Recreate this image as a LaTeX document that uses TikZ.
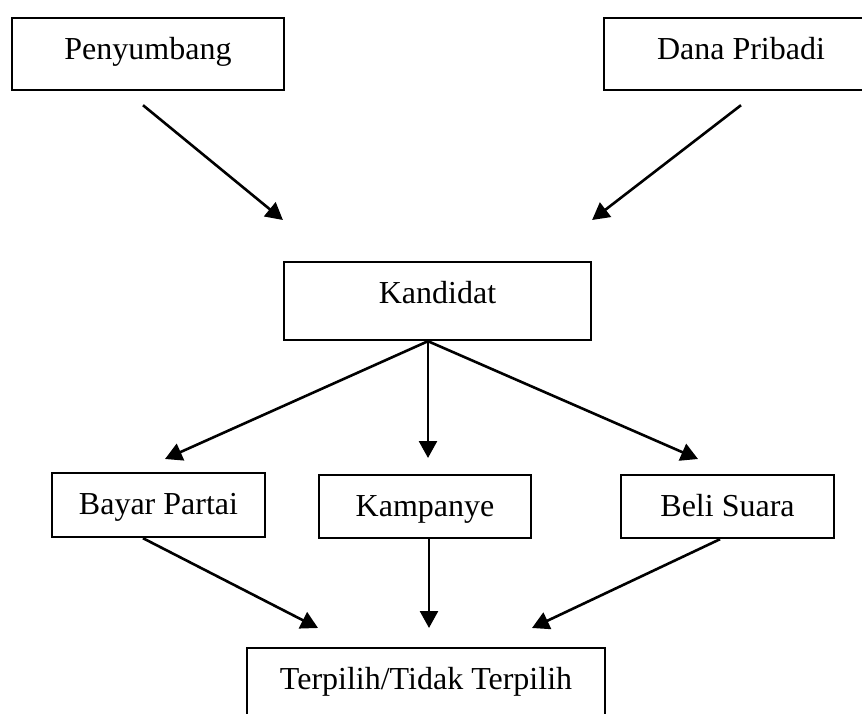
\documentclass[tikz,border=0pt]{standalone}
\usepackage{fontspec}
\setmainfont{Liberation Serif}
\usetikzlibrary{arrows.meta}
\tikzset{
  kotak/.style={rectangle, draw=black, line width=2.2pt, inner xsep=0pt, inner ysep=0pt,
                anchor=north, text height=41pt, font=\fontsize{32}{36}\selectfont},
  panah/.style={-{Triangle[length=17pt, width=18pt]}, line width=2.6pt, draw=black},
}

\begin{document}
\begin{tikzpicture}[x=1pt, y=-1pt]
  \useasboundingbox (0,0) rectangle (862,714);
  \node[kotak, minimum width=272pt, text depth=31pt] (pen) at (148,17)   {Penyumbang};
  \node[kotak, minimum width=274pt, text depth=31pt] (dana) at (741,17)  {Dana Pribadi};
  \node[kotak, minimum width=307pt, text depth=37pt] (kand) at (437.5,261) {Kandidat};
  \node[kotak, minimum width=213pt, text depth=23pt] (bayar) at (158.5,472) {Bayar Partai};
  \node[kotak, minimum width=212pt, text depth=22pt] (kamp) at (425,474)  {Kampanye};
  \node[kotak, minimum width=213pt, text depth=22pt] (beli) at (727.5,474) {Beli Suara};
  \node[kotak, minimum width=358pt, text depth=37pt] (terp) at (426,647)  {Terpilih/Tidak Terpilih};
  \coordinate (hub) at ([xshift=-9.5pt]kand.south);
  \draw[panah] ([xshift=-5pt,yshift=-14pt]pen.south) -- ([yshift=41pt]kand.north west);
  \draw[panah] ([yshift=-14pt]dana.south) -- ([yshift=41pt]kand.north east);
  \draw[panah] (hub) -- ([xshift=6.5pt,yshift=13pt]bayar.north);
  \draw[panah] (hub) -- ([yshift=16pt]hub |- kamp.north);
  \draw[panah] (hub) -- ([xshift=-29.5pt,yshift=15pt]beli.north);
  \draw[panah] ([xshift=-15.5pt]bayar.south) -- ([xshift=-108pt,yshift=19pt]terp.north);
  \draw[panah] ([xshift=4pt]kamp.south) -- ([xshift=3pt,yshift=19pt]terp.north);
  \draw[panah] ([xshift=-7.5pt]beli.south) -- ([xshift=106pt,yshift=19pt]terp.north);
\end{tikzpicture}
\end{document}
